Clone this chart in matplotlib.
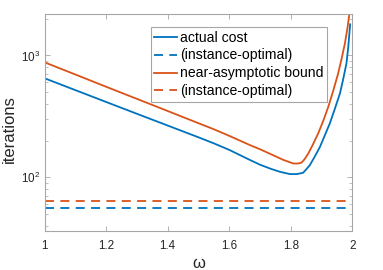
import matplotlib
matplotlib.use("Agg")
import matplotlib.pyplot as plt
from matplotlib.ticker import LogLocator, NullFormatter, FixedLocator

plt.rcParams['font.family'] = ['Liberation Sans', 'DejaVu Sans']
plt.rcParams['mathtext.fontset'] = 'custom'
plt.rcParams['mathtext.rm'] = 'Liberation Sans'
plt.rcParams['mathtext.it'] = 'Liberation Sans:italic'

# data
omega_actual = [1.0, 1.1, 1.2, 1.3, 1.4, 1.5, 1.55, 1.6, 1.667, 1.7, 1.735, 1.765,
                1.797, 1.82, 1.84, 1.85, 1.862, 1.878, 1.895, 1.91, 1.927, 1.943,
                1.96, 1.97, 1.981, 1.987, 1.993]
cost_actual = [649, 519, 415, 332, 266, 213, 190, 168, 139, 127, 117.5, 111,
               106.4, 106.4, 109, 116, 126, 148, 178, 219, 277, 363,
               489, 631, 859, 1175, 1800]

omega_bound = [1.0, 1.1, 1.2, 1.3, 1.4, 1.5, 1.55, 1.6, 1.667, 1.7, 1.74, 1.776,
               1.808, 1.822, 1.835, 1.845, 1.857, 1.872, 1.889, 1.905, 1.922, 1.938,
               1.954, 1.965, 1.976, 1.984, 1.990, 1.995]
cost_bound = [877, 697, 553, 440, 350, 278, 248, 219, 184, 170, 153, 139,
              130, 129.7, 132, 141, 157, 186, 229, 288, 379, 513,
              711, 933, 1254, 1660, 2140, 3160]

opt_actual = 56.4
opt_bound = 64.0

labels = ['actual cost', '(instance-optimal)', 'near-asymptotic bound', '(instance-optimal)']
xticks = [1, 1.2, 1.4, 1.6, 1.8, 2]
xticklabels = ['1', '1.2', '1.4', '1.6', '1.8', '2']

blue = '#0072BD'
orange = '#D95319'

fig = plt.figure(figsize=(3.83, 2.70), dpi=100)
ax = fig.add_axes([0.1167, 0.1444, 0.9198 - 0.1167, 0.948 - 0.1444])

ax.plot(omega_actual, cost_actual, color=blue, lw=1.3, label=labels[0])
ax.axhline(opt_actual, color=blue, lw=1.3, ls=(0, (5, 3.5)), label=labels[1])
ax.plot(omega_bound, cost_bound, color=orange, lw=1.3, label=labels[2])
ax.axhline(opt_bound, color=orange, lw=1.3, ls=(0, (5, 3.5)), label=labels[3])

ax.set_yscale('log')
ax.set_xlim(1, 2)
ax.set_ylim(36.3, 2185)
ax.xaxis.set_major_locator(FixedLocator(xticks))
ax.set_xticklabels(xticklabels)
ax.yaxis.set_major_locator(LogLocator(base=10, numticks=10))
ax.yaxis.set_minor_locator(LogLocator(base=10, subs=range(2, 10), numticks=20))
ax.yaxis.set_minor_formatter(NullFormatter())

for s in ax.spines.values():
    s.set_color('#a6a6a6')
    s.set_linewidth(0.8)
ax.tick_params(which='both', direction='in', top=True, right=True, colors='#a6a6a6',
               labelcolor='#262626', labelsize=8.4)
ax.tick_params(which='major', length=3.5, width=0.6)
ax.tick_params(which='minor', length=2, width=0.5)
ax.tick_params(axis='x', pad=6.5)

ax.set_ylabel('iterations', fontsize=12, color='#262626')
ax.yaxis.set_label_coords(-0.09, 0.47)
ax.set_xlabel('ω', fontsize=12, color='#262626', labelpad=3)

leg = ax.legend(loc='upper right', bbox_to_anchor=(0.918, 0.940), borderaxespad=0,
                fontsize=10.1, handlelength=1.65, handletextpad=0.2, borderpad=0.25,
                labelspacing=0.28, fancybox=False, framealpha=1, edgecolor='#a6a6a6')
leg.get_frame().set_linewidth(0.8)

fig.savefig('out.png', dpi=100)
